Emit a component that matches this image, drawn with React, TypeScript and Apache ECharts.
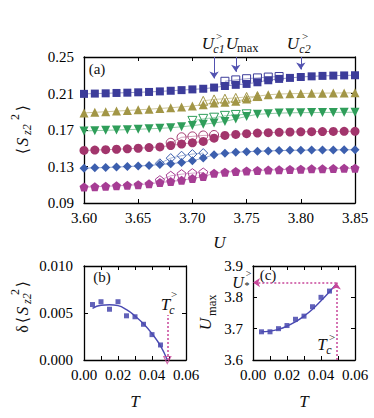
import React, { useEffect, useRef } from "react";
import * as echarts from "echarts";

// ---------- Panel (a) data ----------
const U = [3.60, 3.61, 3.62, 3.63, 3.64, 3.65, 3.66, 3.67, 3.68, 3.69, 3.70, 3.71, 3.72, 3.73, 3.74, 3.75, 3.76, 3.77, 3.78, 3.79, 3.80, 3.81, 3.82, 3.83, 3.84, 3.85];
const squaresFilled = [0.2096, 0.2099, 0.2102, 0.2106, 0.2109, 0.2113, 0.2117, 0.2123, 0.2130, 0.2137, 0.2145, 0.2152, 0.2165, 0.2182, 0.2195, 0.2205, 0.2223, 0.2245, 0.2260, 0.2271, 0.2281, 0.2288, 0.2293, 0.2296, 0.2298, 0.2300];
const trianglesFilled = [0.1887, 0.1894, 0.1900, 0.1907, 0.1914, 0.1921, 0.1928, 0.1936, 0.1944, 0.1953, 0.1963, 0.1978, 0.1997, 0.2003, 0.2014, 0.2040, 0.2070, 0.2086, 0.2094, 0.2098, 0.2100, 0.2102, 0.2104, 0.2105, 0.2106, 0.2107];
const invTrianglesFilled = [0.1690, 0.1693, 0.1697, 0.1700, 0.1704, 0.1708, 0.1713, 0.1718, 0.1725, 0.1735, 0.1748, 0.1762, 0.1777, 0.1794, 0.1821, 0.1849, 0.1872, 0.1879, 0.1885, 0.1888, 0.1890, 0.1891, 0.1892, 0.1893, 0.1894, 0.1895];
const circlesFilled = [0.1476, 0.1480, 0.1484, 0.1489, 0.1494, 0.1500, 0.1507, 0.1515, 0.1530, 0.1546, 0.1560, 0.1575, 0.1610, 0.1641, 0.1652, 0.1660, 0.1666, 0.1671, 0.1675, 0.1678, 0.1680, 0.1682, 0.1683, 0.1684, 0.1685, 0.1686];
const diamondsFilled = [0.1282, 0.1285, 0.1289, 0.1294, 0.1299, 0.1305, 0.1312, 0.1322, 0.1330, 0.1344, 0.1363, 0.1392, 0.1430, 0.1445, 0.1455, 0.1462, 0.1467, 0.1471, 0.1474, 0.1477, 0.1479, 0.1480, 0.1481, 0.1482, 0.1483, 0.1484];
const pentagonsFilled = [0.1074, 0.1078, 0.1083, 0.1088, 0.1094, 0.1101, 0.1110, 0.1125, 0.1135, 0.1150, 0.1168, 0.1190, 0.1225, 0.1238, 0.1246, 0.1252, 0.1257, 0.1261, 0.1265, 0.1268, 0.1271, 0.1274, 0.1276, 0.1278, 0.1280, 0.1282];

const squaresOpenU = [3.73, 3.74, 3.75, 3.76, 3.77, 3.78];
const squaresOpen = [0.2234, 0.2249, 0.2262, 0.2271, 0.2280, 0.2286];
const trianglesOpenU = [3.71, 3.72, 3.73, 3.74, 3.75, 3.76];
const trianglesOpen = [0.2020, 0.2035, 0.2043, 0.2052, 0.2062, 0.2072];
const invTrianglesOpenU = [3.70, 3.71, 3.72, 3.73, 3.74, 3.75];
const invTrianglesOpen = [0.1800, 0.1822, 0.1835, 0.1855, 0.1865, 0.1872];
const circlesOpenU = [3.68, 3.69, 3.70, 3.71, 3.72];
const circlesOpen = [0.1560, 0.1620, 0.1630, 0.1640, 0.1645];
const diamondsOpenU = [3.67, 3.68, 3.69, 3.70, 3.71];
const diamondsOpen = [0.1335, 0.1392, 0.1418, 0.1436, 0.1447];
const pentagonsOpenU = [3.67, 3.68, 3.69, 3.70, 3.71];
const pentagonsOpen = [0.1150, 0.1198, 0.1216, 0.1227, 0.1234];

const arrowU = [3.72, 3.74, 3.80];
const arrowTip = [0.2265, 0.2337, 0.2363];
const aYTicks = [0.09, 0.13, 0.17, 0.21, 0.25];

// ---------- Panel (b) data ----------
const bT = [0.005, 0.010, 0.015, 0.020, 0.025, 0.030, 0.035, 0.040, 0.045];
const bVal = [0.0059, 0.0062, 0.0054, 0.0062, 0.0047, 0.0046, 0.0038, 0.0027, 0.0016];
const bFitT = [0.005, 0.010, 0.015, 0.020, 0.025, 0.030, 0.035, 0.040, 0.045, 0.049];
const bFit = [0.0055, 0.00582, 0.00588, 0.00578, 0.00535, 0.00468, 0.00385, 0.0028, 0.0015, 0.0];
const Tc = 0.049;
const bTcLineTop = 0.0048;

// ---------- Panel (c) data ----------
const cT = [0.005, 0.010, 0.015, 0.020, 0.025, 0.030, 0.035, 0.040, 0.045];
const cVal = [3.690, 3.690, 3.700, 3.710, 3.730, 3.740, 3.770, 3.800, 3.820];
const cFitT = [0.005, 0.010, 0.015, 0.020, 0.025, 0.030, 0.035, 0.040, 0.045, 0.049];
const cFit = [3.690, 3.692, 3.698, 3.708, 3.722, 3.740, 3.762, 3.789, 3.818, 3.843];
const Ustar = 3.847;
const tLabels = [0, 0.02, 0.04, 0.06];

const FONT = "'Liberation Serif', 'DejaVu Serif', serif";
const PENT = "path://M0,-10 L9.51,-3.09 L5.88,8.09 L-5.88,8.09 L-9.51,-3.09 Z";
const PINK = "#c8479a";

const pairs = (xs: number[], ys: number[]) => xs.map((x, i) => [x, ys[i]]);

function txt(x: number, y: number, text: string, size: number, italic = false, align = "center") {
  return {
    type: "text",
    x,
    y,
    silent: true,
    style: {
      text,
      font: `${italic ? "italic " : ""}${size}px ${FONT}`,
      fill: "#111",
      align,
      textAlign: align,
      verticalAlign: "middle",
      textVerticalAlign: "middle",
    },
  };
}

function axisBase(extra: any) {
  return {
    type: "value",
    axisLine: { show: true, onZero: false, lineStyle: { color: "#000", width: 1.3 } },
    axisTick: { show: true, inside: true, length: 4, lineStyle: { color: "#000", width: 1 } },
    axisLabel: { color: "#000", fontSize: 15, fontFamily: FONT },
    splitLine: { show: false },
    ...extra,
  };
}

function filledSeries(data: number[], color: string, symbol: string, size: number, rotate = 0) {
  return {
    type: "line",
    xAxisIndex: 0,
    yAxisIndex: 0,
    data: pairs(U, data),
    symbol,
    symbolSize: size,
    symbolRotate: rotate,
    itemStyle: { color },
    lineStyle: { color, width: 1, opacity: 0.55 },
    z: 3,
  };
}

function openSeries(us: number[], data: number[], color: string, symbol: string, size: number, rotate = 0) {
  return {
    type: "line",
    xAxisIndex: 0,
    yAxisIndex: 0,
    data: pairs(us, data),
    symbol,
    symbolSize: size,
    symbolRotate: rotate,
    itemStyle: { color: "rgba(255,255,255,0)", borderColor: color, borderWidth: 1 },
    lineStyle: { color, width: 1, opacity: 0.45 },
    z: 2,
  };
}

function rotatedLabel(cx: number, cy: number, parts: any[]) {
  return { type: "group", x: cx, y: cy, rotation: Math.PI / 2, children: parts };
}

export default function App() {
  const ref = useRef<HTMLDivElement>(null);
  useEffect(() => {
    const chart = echarts.init(ref.current!, null, { renderer: "svg" });
    const C = {
      sq: "#3c3c9a",
      tri: "#a29646",
      inv: "#2f9e5a",
      ci: "#a2356c",
      di: "#3c5fae",
      pe: "#a63d94",
    };
    const dotted = { color: PINK, width: 1.5, type: [2, 2] };
    const option: any = {
      animation: false,
      backgroundColor: "#fff",
      grid: [
        { left: 84, top: 57, width: 271, height: 146 },
        { left: 84, top: 266, width: 102, height: 94 },
        { left: 253, top: 266, width: 102, height: 94 },
      ],
      xAxis: [
        axisBase({
          gridIndex: 0, position: "bottom", min: 3.6, max: 3.85, interval: 0.05,
          axisLabel: { color: "#000", fontSize: 15, fontFamily: FONT, margin: 7, formatter: (v: number) => v.toFixed(2) },
          name: "U", nameLocation: "middle", nameGap: 31,
          nameTextStyle: { fontStyle: "italic", fontSize: 17, fontFamily: FONT, color: "#111" },
        }),
        axisBase({ gridIndex: 0, position: "top", min: 3.6, max: 3.85, interval: 0.05, axisLabel: { show: false } }),
        axisBase({
          gridIndex: 1, position: "bottom", min: 0, max: 0.06, interval: 0.01,
          axisLabel: { color: "#000", fontSize: 15, fontFamily: FONT, margin: 7, customValues: tLabels, formatter: (v: number) => v.toFixed(2) },
          name: "T", nameLocation: "middle", nameGap: 33,
          nameTextStyle: { fontStyle: "italic", fontSize: 17, fontFamily: FONT, color: "#111" },
        }),
        axisBase({ gridIndex: 1, position: "top", min: 0, max: 0.06, interval: 0.01, axisLabel: { show: false } }),
        axisBase({
          gridIndex: 2, position: "bottom", min: 0, max: 0.06, interval: 0.01,
          axisLabel: { color: "#000", fontSize: 15, fontFamily: FONT, margin: 7, customValues: tLabels, formatter: (v: number) => v.toFixed(2) },
          name: "T", nameLocation: "middle", nameGap: 33,
          nameTextStyle: { fontStyle: "italic", fontSize: 17, fontFamily: FONT, color: "#111" },
        }),
        axisBase({ gridIndex: 2, position: "top", min: 0, max: 0.06, interval: 0.01, axisLabel: { show: false } }),
      ],
      yAxis: [
        axisBase({
          gridIndex: 0, position: "left", min: 0.09, max: 0.25, interval: 0.01,
          axisTick: { show: true, inside: true, length: 4, customValues: aYTicks, lineStyle: { color: "#000" } },
          axisLabel: { color: "#000", fontSize: 15, fontFamily: FONT, margin: 10, customValues: aYTicks, formatter: (v: number) => v.toFixed(2) },
        }),
        axisBase({
          gridIndex: 0, position: "right", min: 0.09, max: 0.25, interval: 0.01,
          axisTick: { show: true, inside: true, length: 4, customValues: aYTicks, lineStyle: { color: "#000" } },
          axisLabel: { show: false },
        }),
        axisBase({
          gridIndex: 1, position: "left", min: 0, max: 0.01, interval: 0.005,
          axisLabel: { color: "#000", fontSize: 15, fontFamily: FONT, margin: 11, formatter: (v: number) => v.toFixed(3) },
        }),
        axisBase({ gridIndex: 1, position: "right", min: 0, max: 0.01, interval: 0.005, axisLabel: { show: false } }),
        axisBase({
          gridIndex: 2, position: "left", min: 3.6, max: 3.9, interval: 0.1,
          axisLabel: { color: "#000", fontSize: 15, fontFamily: FONT, margin: 10, formatter: (v: number) => v.toFixed(1) },
        }),
        axisBase({ gridIndex: 2, position: "right", min: 3.6, max: 3.9, interval: 0.1, axisLabel: { show: false } }),
      ],
      series: [
        openSeries(squaresOpenU, squaresOpen, C.sq, "rect", 8),
        openSeries(trianglesOpenU, trianglesOpen, C.tri, "triangle", 9),
        openSeries(invTrianglesOpenU, invTrianglesOpen, C.inv, "triangle", 9, 180),
        openSeries(circlesOpenU, circlesOpen, C.ci, "circle", 9),
        openSeries(diamondsOpenU, diamondsOpen, C.di, "diamond", 9),
        openSeries(pentagonsOpenU, pentagonsOpen, C.pe, PENT, 9),
        {
          ...filledSeries(squaresFilled, C.sq, "rect", 8),
          markLine: {
            silent: true,
            symbol: ["none", "arrow"],
            symbolSize: 7,
            label: { show: false },
            lineStyle: { color: "#5252b0", width: 1, type: "solid" },
            data: arrowU.map((u, i) => [{ coord: [u, 0.25] }, { coord: [u, arrowTip[i]] }]),
          },
        },
        filledSeries(trianglesFilled, C.tri, "triangle", 9),
        filledSeries(invTrianglesFilled, C.inv, "triangle", 9, 180),
        filledSeries(circlesFilled, C.ci, "circle", 9),
        filledSeries(diamondsFilled, C.di, "diamond", 9),
        filledSeries(pentagonsFilled, C.pe, PENT, 9),
        // panel (b)
        {
          type: "line", xAxisIndex: 2, yAxisIndex: 2, data: pairs(bFitT, bFit), smooth: true,
          showSymbol: false, symbol: "none", lineStyle: { color: "#4a4ab2", width: 1.4 },
          markLine: {
            silent: true, symbol: ["none", "none"], label: { show: false },
            lineStyle: dotted,
            data: [[{ coord: [Tc, 0] }, { coord: [Tc, bTcLineTop] }]],
          },
        },
        {
          type: "scatter", xAxisIndex: 2, yAxisIndex: 2, data: pairs(bT, bVal), symbol: "rect",
          symbolSize: 5, itemStyle: { color: "#3b3ba8" },
        },
        {
          type: "scatter", xAxisIndex: 2, yAxisIndex: 2, data: [[Tc, 0]], symbol: "triangle", symbolRotate: 180,
          symbolSize: 7, itemStyle: { color: "rgba(255,255,255,0)", borderColor: PINK, borderWidth: 1.2 }, z: 5,
        },
        // panel (c)
        {
          type: "line", xAxisIndex: 4, yAxisIndex: 4, data: pairs(cFitT, cFit), smooth: true,
          showSymbol: false, symbol: "none", lineStyle: { color: "#4a4ab2", width: 1.4 },
          markLine: {
            silent: true, symbol: ["none", "arrow"], symbolSize: 7, label: { show: false },
            lineStyle: dotted,
            data: [
              [{ coord: [Tc, Ustar] }, { coord: [0, Ustar] }],
              [{ coord: [Tc, 3.6] }, { coord: [Tc, Ustar] }],
            ],
          },
        },
        {
          type: "scatter", xAxisIndex: 4, yAxisIndex: 4, data: pairs(cT, cVal), symbol: "rect",
          symbolSize: 5, itemStyle: { color: "#3b3ba8" },
        },
      ],
      graphic: [
        // panel labels
        txt(97, 69, "(a)", 15),
        txt(102, 277, "(b)", 15),
        txt(268, 275, "(c)", 15),
        // U_c1^>
        txt(208, 43, "U", 17, true),
        txt(219, 49, "c1", 12, true),
        txt(219, 36, ">", 11),
        // U_max
        txt(232, 43, "U", 17, true),
        txt(237, 48, "max", 12.5, false, "left"),
        // U_c2^>
        txt(293, 43, "U", 17, true),
        txt(305, 49, "c2", 12, true),
        txt(305, 36, ">", 11),
        // T_c^> in (b)
        txt(165.5, 304, "T", 17, true),
        txt(172, 310, "c", 12, true),
        txt(174, 294, ">", 11),
        // T_c^> in (c)
        txt(322, 344, "T", 17, true),
        txt(329, 350, "c", 12, true),
        txt(332, 337, ">", 11),
        // U_*^>
        txt(238, 282.5, "U", 16, true),
        txt(247, 285.5, "*", 10),
        txt(248.5, 273.5, ">", 10),
        // y labels
        rotatedLabel(22, 130, [
          txt(-21, 0, "⟨", 16),
          txt(-12, 0, "S", 17, true),
          txt(-5, 5, "z2", 12, true, "left"),
          txt(13, -7, "2", 12),
          txt(22, 0, "⟩", 16),
        ]),
        rotatedLabel(22, 308, [
          txt(-21, 0, "δ", 16),
          txt(-12, 0, "⟨", 16),
          txt(-3, 0, "S", 17, true),
          txt(4, 5, "z2", 12, true, "left"),
          txt(16, -7, "2", 12),
          txt(24, 0, "⟩", 16),
        ]),
        rotatedLabel(206, 312, [
          txt(-12, -1, "U", 17, true),
          txt(-4, 6, "max", 12.5, false, "left"),
        ]),
      ],
    };
    chart.setOption(option);
    return () => chart.dispose();
  }, []);
  return <div ref={ref} style={{ position: "absolute", left: 0, top: 0, width: 374, height: 418 }} />;
}
